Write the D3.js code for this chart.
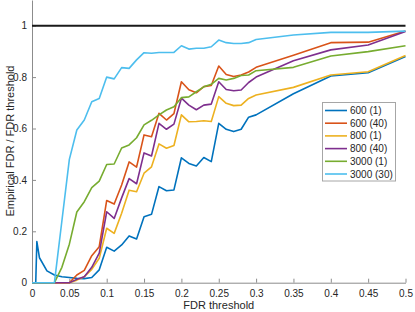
<!DOCTYPE html>
<html>
<head>
<meta charset="utf-8">
<script src="https://cdn.jsdelivr.net/npm/d3@7"></script>
<style>
  body { margin: 0; background: #fff; }
  text { font-family: "Liberation Sans", Arial, sans-serif; }
</style>
</head>
<body>
<script>
// FDR threshold grid
const fdr = [0, 0.005, 0.0065, 0.01, 0.02, 0.03, 0.04, 0.05, 0.06, 0.07, 0.08, 0.09,
  0.10, 0.11, 0.12, 0.13, 0.14, 0.15, 0.16, 0.17, 0.18, 0.19, 0.20, 0.21, 0.22, 0.23,
  0.24, 0.25, 0.26, 0.27, 0.28, 0.29, 0.30, 0.35, 0.40, 0.45, 0.50];

const s600_1 = [0, 0, 0.16, 0.097, 0.046, 0.03, 0.023, 0.02, 0.017, 0.016, 0.02, 0.05,
  0.138, 0.123, 0.147, 0.182, 0.17, 0.257, 0.266, 0.374, 0.358, 0.361, 0.486, 0.464, 0.454, 0.487,
  0.471, 0.62, 0.597, 0.588, 0.597, 0.644, 0.653, 0.735, 0.804, 0.817, 0.88];
const s600_40 = [0, 0, 0, 0, 0, 0, 0, 0, 0.03, 0.048, 0.105, 0.14,
  0.32, 0.306, 0.38, 0.47, 0.45, 0.575, 0.568, 0.659, 0.633, 0.658, 0.782, 0.751, 0.739, 0.763,
  0.767, 0.843, 0.81, 0.802, 0.808, 0.82, 0.838, 0.885, 0.934, 0.936, 0.979];
const s800_1 = [0, 0, 0, 0, 0, 0, 0, 0, 0.01, 0.023, 0.052, 0.095,
  0.212, 0.192, 0.27, 0.36, 0.354, 0.426, 0.451, 0.54, 0.523, 0.534, 0.653, 0.626, 0.627, 0.63,
  0.627, 0.724, 0.698, 0.689, 0.691, 0.717, 0.73, 0.76, 0.808, 0.821, 0.884];
const s800_40 = [0, 0, 0, 0, 0, 0, 0, 0, 0.013, 0.023, 0.06, 0.115,
  0.276, 0.25, 0.33, 0.405, 0.385, 0.505, 0.493, 0.62, 0.597, 0.617, 0.718, 0.691, 0.673, 0.691,
  0.695, 0.782, 0.752, 0.747, 0.75, 0.779, 0.80, 0.864, 0.906, 0.925, 0.977];
const s3000_1 = [0, 0, 0, 0, 0, 0, 0.06, 0.15, 0.275, 0.315, 0.37, 0.395,
  0.46, 0.462, 0.524, 0.536, 0.564, 0.614, 0.632, 0.653, 0.672, 0.685, 0.72, 0.723, 0.743, 0.762,
  0.772, 0.795, 0.789, 0.795, 0.806, 0.808, 0.825, 0.838, 0.882, 0.899, 0.922];
const s3000_30 = [0, 0, 0, 0, 0, 0, 0.24, 0.48, 0.594, 0.633, 0.704, 0.717,
  0.80, 0.793, 0.837, 0.834, 0.867, 0.895, 0.893, 0.896, 0.896, 0.896, 0.922, 0.909, 0.912, 0.912,
  0.918, 0.944, 0.934, 0.931, 0.931, 0.934, 0.946, 0.964, 0.974, 0.974, 0.979];

const seriesNames = ["600 (1)", "600 (40)", "800 (1)", "800 (40)", "3000 (1)", "3000 (30)"];
const seriesValues = [s600_1, s600_40, s800_1, s800_40, s3000_1, s3000_30];
const colors = ["#0072BD", "#D95319", "#EDB120", "#7E2F8E", "#77AC30", "#4DBEEE"];

const xTicks = [0, 0.05, 0.1, 0.15, 0.2, 0.25, 0.3, 0.35, 0.4, 0.45, 0.5];
const yTicks = [0, 0.2, 0.4, 0.6, 0.8, 1];

const svg = d3.select("body")
  .append("svg").attr("width", 415).attr("height", 312);

const x = d3.scaleLinear().domain([0, 0.5]).range([32, 405.5]);
const y = d3.scaleLinear().domain([0, 1.1]).range([282.7, 0]);

// axes
const xAxis = svg.append("g")
  .attr("transform", "translate(0,282.7)")
  .call(d3.axisBottom(x).tickValues(xTicks).tickSizeInner(-4).tickSizeOuter(0)
    .tickPadding(7).tickFormat(d => String(d)));
const yAxis = svg.append("g")
  .attr("transform", "translate(32,0)")
  .call(d3.axisLeft(y).tickValues(yTicks).tickSizeInner(-4).tickSizeOuter(0)
    .tickPadding(5).tickFormat(d => String(d)));

[xAxis, yAxis].forEach(g => {
  g.select(".domain").attr("stroke", "#8c8c8c").attr("stroke-width", 1);
  g.selectAll(".tick line").attr("stroke", "#8c8c8c");
  g.selectAll(".tick text").attr("fill", "#262626").attr("font-size", 10);
});

// reference line at 1
svg.append("line")
  .attr("x1", x(0)).attr("x2", x(0.5))
  .attr("y1", y(1)).attr("y2", y(1))
  .attr("stroke", "#1a1a1a").attr("stroke-width", 2);

// series lines
const line = d3.line()
  .x((d, i) => x(fdr[i]))
  .y(d => y(d));

svg.selectAll("path.series")
  .data(seriesValues)
  .join("path")
  .attr("class", "series")
  .attr("fill", "none")
  .attr("stroke", (d, i) => colors[i])
  .attr("stroke-width", 1.6)
  .attr("stroke-linejoin", "round")
  .attr("d", line);

// axis labels
svg.append("text")
  .attr("x", 218.75).attr("y", 309)
  .attr("text-anchor", "middle")
  .attr("font-size", 11).attr("fill", "#262626")
  .text("FDR threshold");

svg.append("text")
  .attr("transform", "translate(13.5,141) rotate(-90)")
  .attr("text-anchor", "middle")
  .attr("font-size", 11).attr("fill", "#262626")
  .text("Empirical FDR / FDR threshold");

// legend
const legend = svg.append("g");
legend.append("rect")
  .attr("x", 322.5).attr("y", 102.5)
  .attr("width", 73).attr("height", 78.5)
  .attr("fill", "#fff").attr("stroke", "#a6a6a6").attr("stroke-width", 1);

const items = legend.selectAll("g.item")
  .data(seriesNames)
  .join("g")
  .attr("class", "item")
  .attr("transform", (d, i) => `translate(0,${110.5 + i * 12.7})`);

items.append("line")
  .attr("x1", 325).attr("x2", 347)
  .attr("stroke", (d, i) => colors[i])
  .attr("stroke-width", 1.6);

items.append("text")
  .attr("x", 350).attr("y", 0)
  .attr("dy", "0.35em")
  .attr("font-size", 10).attr("fill", "#262626")
  .text(d => d);
</script>
</body>
</html>
